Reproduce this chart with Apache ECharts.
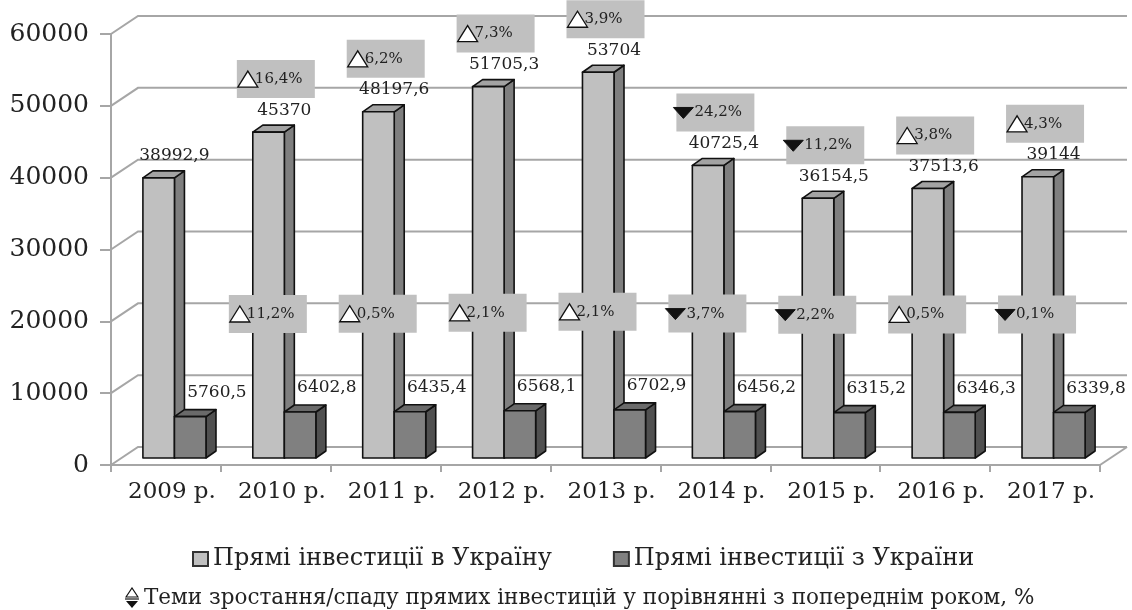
<!DOCTYPE html>
<html><head><meta charset="utf-8">
<script src="https://cdn.jsdelivr.net/npm/echarts@6/dist/echarts.min.js"></script>
<style>html,body{margin:0;padding:0;background:#fff}#c{width:1132px;height:610px}</style>
</head><body><div id="c"></div>
<script>
// ---- data ----
const years = ['2009 р.', '2010 р.', '2011 р.', '2012 р.', '2013 р.', '2014 р.', '2015 р.', '2016 р.', '2017 р.'];
const investIn = [38992.9, 45370, 48197.6, 51705.3, 53704, 40725.4, 36154.5, 37513.6, 39144];
const investOut = [5760.5, 6402.8, 6435.4, 6568.1, 6702.9, 6456.2, 6315.2, 6346.3, 6339.8];
const growthIn = [null, 16.4, 6.2, 7.3, 3.9, -24.2, -11.2, 3.8, 4.3];
const growthOut = [null, 11.2, 0.5, 2.1, 2.1, -3.7, -2.2, 0.5, -0.1];
const yTicks = [0, 10000, 20000, 30000, 40000, 50000, 60000];
const nameIn = 'Прямі інвестиції в Україну';
const nameOut = 'Прямі інвестиції з України';
const nameGrowth = 'Теми зростання/спаду прямих інвестицій у порівнянні з попереднім роком, %';

// ---- styling constants (3D look) ----
const WALL = [27, -18];
const SHIFT = [8.5, -7];
const DEPTH = [10, -7];
const BAR_FRAC = 0.287;
const GRID_COLOR = '#a6a6a6';
const TXT = '#222';
const SERIF = '"DejaVu Serif", "Liberation Serif", serif';

const fmt = v => String(v).replace('.', ',');

function wallItem(params, api) {
  const cs = params.coordSys;
  const v = api.value(1);
  const y = api.coord([0, v])[1];
  const x0 = cs.x, x1 = cs.x + cs.width;
  const children = [{
    type: 'polyline',
    shape: { points: [[x0, y], [x0 + WALL[0], y + WALL[1]], [x1 + WALL[0], y + WALL[1]]] },
    style: { stroke: GRID_COLOR, lineWidth: 2, fill: null }
  }];
  if (v === 0) {
    children.push({ type: 'line', shape: { x1: x1, y1: y, x2: x1 + WALL[0], y2: y + WALL[1] },
      style: { stroke: GRID_COLOR, lineWidth: 2 } });
  }
  return { type: 'group', children };
}

function barShapes(xl, xr, yt, yb, c) {
  const dx = DEPTH[0], dy = DEPTH[1];
  const st = { stroke: '#111', lineWidth: 1.6, lineJoin: 'round' };
  return [
    { type: 'polygon', shape: { points: [[xr, yb], [xr + dx, yb + dy], [xr + dx, yt + dy], [xr, yt]] }, style: Object.assign({ fill: c.side }, st) },
    { type: 'polygon', shape: { points: [[xl, yt], [xl + dx, yt + dy], [xr + dx, yt + dy], [xr, yt]] }, style: Object.assign({ fill: c.top }, st) },
    { type: 'rect', shape: { x: xl, y: yt, width: xr - xl, height: yb - yt }, style: Object.assign({ fill: c.front }, st) }
  ];
}

function makeBarSeries(name, values, side, c, labelDX, labelDY) {
  return {
    type: 'custom', name: name, z: 3, clip: false,
    itemStyle: { color: c.front, borderColor: '#333', borderWidth: 1.2 },
    encode: { x: 0, y: 1 },
    data: values.map((v, i) => [i, v]),
    renderItem: function (params, api) {
      const i = api.value(0), v = api.value(1);
      const top = api.coord([i, v]), base = api.coord([i, 0]);
      const bw = api.size([1, 0])[0];
      const w = bw * BAR_FRAC;
      const xc = top[0] + SHIFT[0];
      const xl = side === 0 ? xc - w : xc;
      const xr = xl + w;
      const yt = top[1] + SHIFT[1], yb = base[1] + SHIFT[1];
      const children = barShapes(xl, xr, yt, yb, c);
      children.push({
        type: 'text', x: top[0] + labelDX, y: yt + labelDY,
        style: { text: fmt(v), fill: TXT, fontSize: 17, fontFamily: SERIF, align: 'center', verticalAlign: 'middle' }
      });
      return { type: 'group', children };
    }
  };
}

const growthData = [];
growthIn.forEach((g, i) => { if (g !== null) growthData.push([i, investIn[i], g, 0]); });
growthOut.forEach((g, i) => { if (g !== null) growthData.push([i, investOut[i], g, 1]); });

function growthItem(params, api) {
  const i = api.value(0), v = api.value(1), pct = api.value(2), kind = api.value(3);
  const p = api.coord([i, v]);
  const cx = p[0] + (kind === 0 ? 0 : -8);
  const cy = p[1] + SHIFT[1] + (kind === 0 ? -53 : -98);
  const bw = 78, bh = 38;
  const bx = cx - bw / 2, by = cy - bh / 2;
  const children = [{ type: 'rect', shape: { x: bx, y: by, width: bw, height: bh }, style: { fill: '#c0c0c0' } }];
  if (pct >= 0) {
    children.push({ type: 'polygon', shape: { points: [[bx + 1, cy + 8], [bx + 11, cy - 8], [bx + 21, cy + 8]] },
      style: { fill: '#fff', stroke: '#111', lineWidth: 1.3 } });
  } else {
    children.push({ type: 'polygon', shape: { points: [[bx - 3, cy - 5], [bx + 17, cy - 5], [bx + 7, cy + 6]] },
      style: { fill: '#111', stroke: '#111', lineWidth: 1 } });
  }
  children.push({ type: 'text', x: bx + 18, y: cy,
    style: { text: fmt(Math.abs(pct)) + '%', fill: TXT, fontSize: 15, fontFamily: SERIF, align: 'left', verticalAlign: 'middle' } });
  return { type: 'group', children };
}

const iconSvg = '<svg xmlns="http://www.w3.org/2000/svg" width="14" height="22" viewBox="0 0 14 22">' +
  '<polygon points="1,10 7,1 13,10" fill="#fff" stroke="#111" stroke-width="1.2"/>' +
  '<line x1="0" y1="12" x2="14" y2="12" stroke="#111" stroke-width="1.2"/>' +
  '<polygon points="1,14 13,14 7,21" fill="#111"/></svg>';
const growthIcon = 'image://data:image/svg+xml;charset=utf-8,' + encodeURIComponent(iconSvg);

const chart = echarts.init(document.getElementById('c'), null, { renderer: 'canvas' });
chart.setOption({
  animation: false,
  backgroundColor: '#fff',
  grid: { left: 111, right: 32, top: 34, bottom: 145, containLabel: false },
  xAxis: {
    type: 'category', data: years,
    axisLine: { lineStyle: { color: GRID_COLOR, width: 2 } },
    axisTick: { show: true, length: 7, interval: 0, lineStyle: { color: GRID_COLOR, width: 2 } },
    axisLabel: { margin: 16, interval: 0, color: TXT, fontSize: 23, fontFamily: SERIF, padding: [0, 0, 0, 12] }
  },
  yAxis: {
    type: 'value', min: 0, max: 60000, interval: 10000,
    axisLine: { show: true, lineStyle: { color: GRID_COLOR, width: 2 } },
    axisTick: { show: true, length: 11, lineStyle: { color: GRID_COLOR, width: 2 } },
    splitLine: { show: false },
    axisLabel: { margin: 22, color: TXT, fontSize: 25, fontFamily: SERIF,
      formatter: v => yTicks.indexOf(v) >= 0 ? String(v) : '' }
  },
  legend: [
    { data: [nameIn, nameOut], left: 187, top: 542, itemWidth: 15, itemHeight: 14, itemGap: 61, icon: 'rect',
      selectedMode: false, textStyle: { color: TXT, fontSize: 24, fontFamily: SERIF } },
    { data: [{ name: nameGrowth, icon: growthIcon }], left: 120, top: 582, itemWidth: 14, itemHeight: 22,
      selectedMode: false, textStyle: { color: TXT, fontSize: 21.5, fontFamily: SERIF } }
  ],
  series: [
    { type: 'custom', name: 'walls', z: 1, clip: false, silent: true, encode: { x: 0, y: 1 },
      data: yTicks.map(v => [0, v]), renderItem: wallItem },
    makeBarSeries(nameIn, investIn, 0, { front: '#c0c0c0', top: '#a3a3a3', side: '#7f7f7f' }, SHIFT[0], -22),
    makeBarSeries(nameOut, investOut, 1, { front: '#808080', top: '#6a6a6a', side: '#505050' }, 51, -24),
    { type: 'custom', name: nameGrowth, z: 5, clip: false, encode: { x: 0, y: 1 },
      itemStyle: { color: '#fff' }, data: growthData, renderItem: growthItem }
  ]
});
</script></body></html>
